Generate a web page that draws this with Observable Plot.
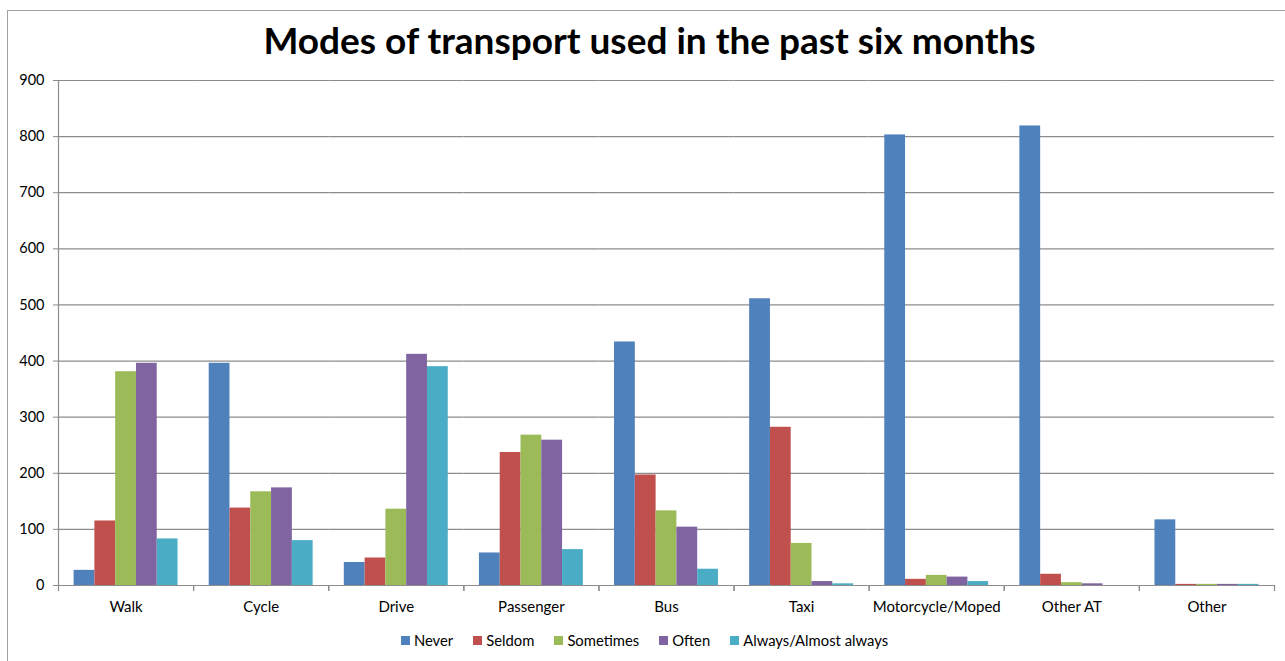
<!DOCTYPE html>
<html>
<head>
<meta charset="utf-8">
<script src="https://cdn.jsdelivr.net/npm/d3@7"></script>
<script src="https://cdn.jsdelivr.net/npm/@observablehq/plot@0.6"></script>
<style>
  html, body { margin: 0; padding: 0; background: #fff; }
  #wrap { position: relative; width: 1285px; height: 661px; overflow: hidden; font-family: Lato, "Open Sans", sans-serif; }
  #border { position: absolute; left: 7px; top: 10px; width: 1400px; height: 700px; border-left: 1.5px solid #a0a0a0; border-top: 1.5px solid #a0a0a0; }
  #title { position: absolute; left: 0; top: 17px; width: 1299px; text-align: center; font-weight: 700; font-size: 37px; color: #000; }
  #chart { position: absolute; left: 0; top: 60px; }
  #legend { position: absolute; left: 0; top: 631px; width: 1289px; display: flex; justify-content: center; font-size: 14.8px; color: #000; }
  .item { display: flex; align-items: center; margin: 0 10px; }
  .sw { width: 9px; height: 9px; margin-right: 4px; }
</style>
</head>
<body>
<div id="wrap">
  <div id="border"></div>
  <div id="title">Modes of transport used in the past six months</div>
  <div id="chart"></div>
  <div id="legend"></div>
</div>
<script>
const categories = ["Walk", "Cycle", "Drive", "Passenger", "Bus", "Taxi", "Motorcycle/Moped", "Other AT", "Other"];
const seriesNames = ["Never", "Seldom", "Sometimes", "Often", "Always/Almost always"];
const seriesColors = ["#4F81BD", "#C0504D", "#9BBB59", "#8064A2", "#4BACC6"];
const never     = [27, 396, 41, 58, 434, 511, 803, 819, 117];
const seldom    = [115, 138, 49, 237, 197, 282, 11, 20, 2];
const sometimes = [381, 167, 136, 268, 133, 75, 18, 5, 2];
const often     = [396, 174, 412, 259, 104, 7, 15, 3, 2];
const always    = [83, 80, 390, 64, 29, 3, 7, 0, 2];
const yTicks = [0, 100, 200, 300, 400, 500, 600, 700, 800, 900];

const seriesValues = [never, seldom, sometimes, often, always];
const data = categories.flatMap((c, i) =>
  seriesNames.map((s, j) => ({category: c, series: s, value: seriesValues[j][i]}))
);

const gridColor = "#8c8c8c";
const plotHeight = 560, mTop = 20, mBottom = 35;

const chart = Plot.plot({
  width: 1285,
  height: plotHeight,
  marginLeft: 58,
  marginRight: 11,
  marginTop: mTop,
  marginBottom: mBottom,
  style: {fontFamily: "Lato, 'Open Sans', sans-serif", fontSize: "14px", color: "#000", background: "transparent"},
  fx: {domain: categories, padding: 0, round: false, axis: null, label: null},
  x: {domain: seriesNames, paddingInner: 0, paddingOuter: 0.75, round: false, axis: null},
  y: {domain: [0, 900], axis: null, label: null},
  color: {domain: seriesNames, range: seriesColors},
  marks: [
    Plot.ruleY(yTicks.filter(d => d > 0), {stroke: gridColor, strokeWidth: 1.2}),
    Plot.barY(data, {fx: "category", x: "series", y: "value", fill: "series"}),
    Plot.ruleY([0], {stroke: gridColor, strokeWidth: 1.2}),
    Plot.frame({anchor: "left", stroke: gridColor, strokeWidth: 1.2, insetTop: plotHeight - mTop - mBottom, insetBottom: -5}),
    Plot.frame({anchor: "right", stroke: gridColor, strokeWidth: 1.2, insetTop: plotHeight - mTop - mBottom, insetBottom: -5}),
    Plot.frame({anchor: "left", stroke: gridColor, strokeWidth: 1.2, facetAnchor: "left"}),
    Plot.axisY({ticks: yTicks, tickSize: 5, tickPadding: 9, stroke: gridColor, fill: "#000", label: null, fontSize: 14.5, tickFormat: d => String(d)}),
    Plot.axisFx({anchor: "bottom", tickSize: 0, tickPadding: 16, label: null, fontSize: 15, fill: "#000"})
  ]
});
document.getElementById("chart").appendChild(chart);

const legend = document.getElementById("legend");
seriesNames.forEach((s, i) => {
  const item = document.createElement("div");
  item.className = "item";
  const sw = document.createElement("span");
  sw.className = "sw";
  sw.style.background = seriesColors[i];
  const t = document.createElement("span");
  t.textContent = s;
  item.appendChild(sw);
  item.appendChild(t);
  legend.appendChild(item);
});
</script>
</body>
</html>
